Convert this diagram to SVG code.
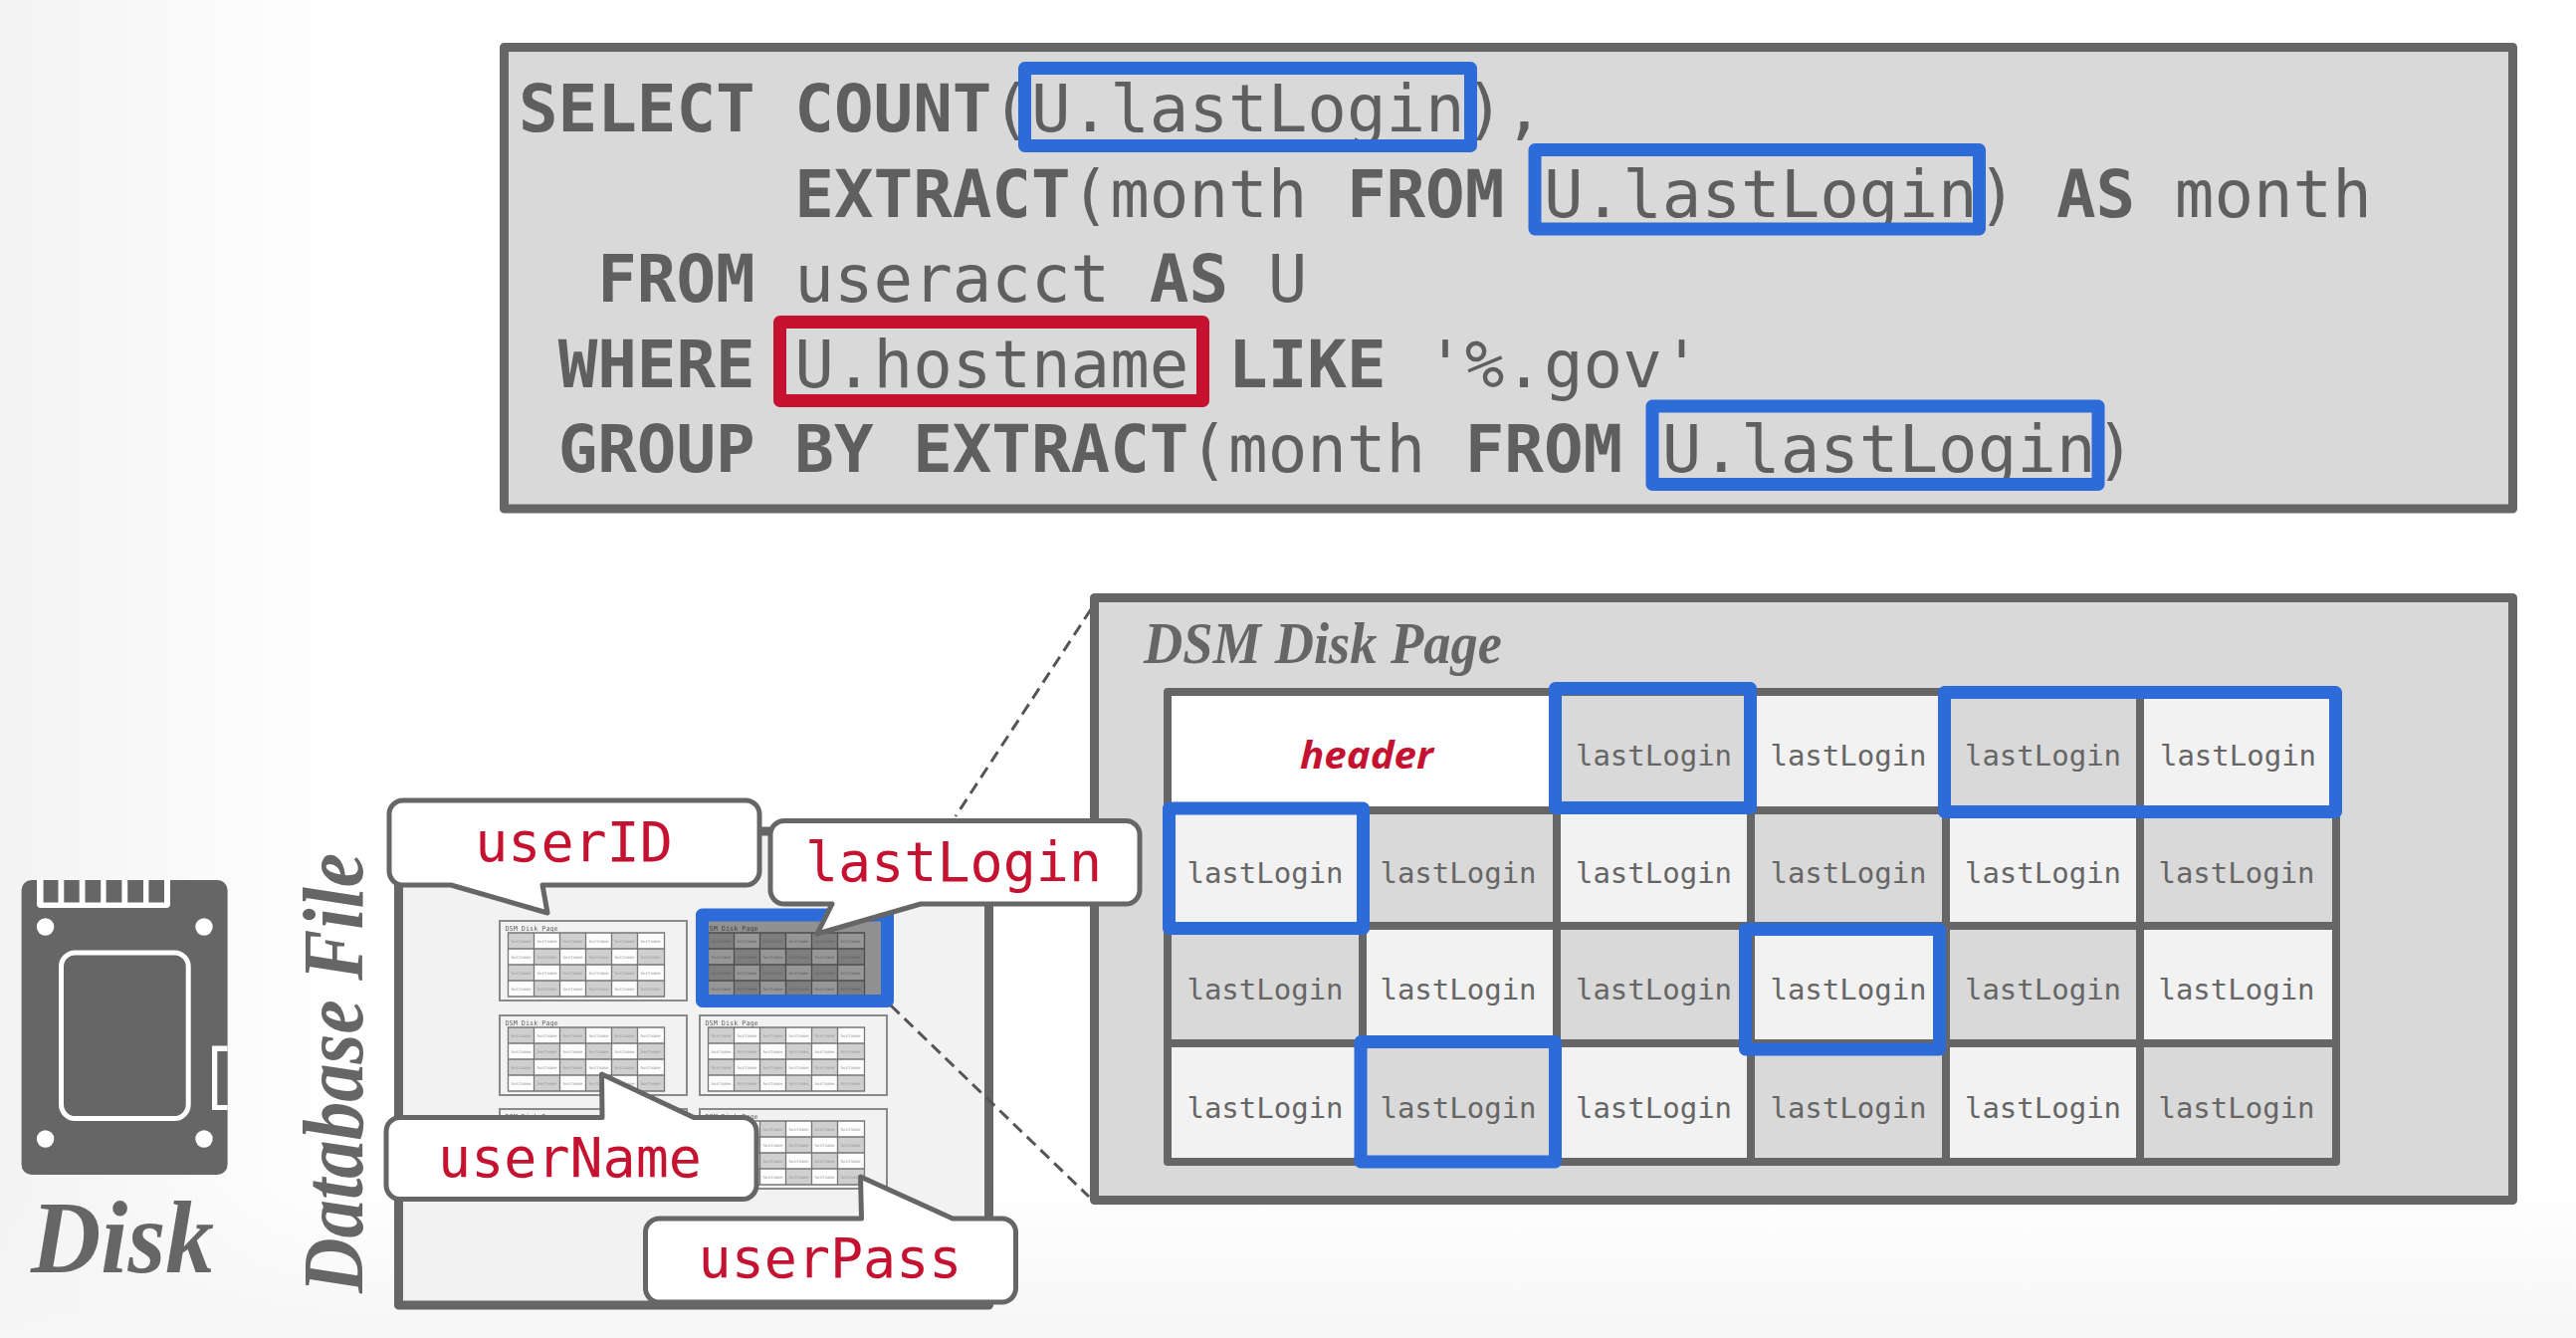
<svg xmlns="http://www.w3.org/2000/svg" width="2588" height="1344" viewBox="0 0 2588 1344">
<style>
.sql{font-family:"DejaVu Sans Mono",monospace;font-size:65.8px;fill:#5f5f5f;white-space:pre}
.sql .b{font-weight:700}
.frame{fill:#d9d9d9;stroke:#666;stroke-width:9;stroke-linejoin:round}
.blue{fill:none;stroke:#2d6bd9;stroke-width:13;stroke-linejoin:round}
.red{fill:none;stroke:#c41230;stroke-width:13;stroke-linejoin:round}
.d{fill:#d9d9d9}.l{fill:#f2f2f2}
.cell{font-family:"DejaVu Sans Mono",monospace;font-size:29px;fill:#666;text-anchor:middle}
.ttl{font-family:"Liberation Serif",serif;font-weight:700;font-style:italic;fill:#666}
.bub{fill:#fff;stroke:#666;stroke-width:5;stroke-linejoin:round}
.bt{font-family:"DejaVu Sans Mono",monospace;font-size:55px;fill:#c41230;text-anchor:middle}
.gl{fill:none;stroke:#666;stroke-width:8;stroke-linejoin:round}
.dash{fill:none;stroke:#555;stroke-width:3;stroke-dasharray:12 7}
.tp{fill:#f2f2f2;stroke:#8a8a8a;stroke-width:2}
.tt{font-family:"DejaVu Sans Mono",monospace;font-size:6.8px;fill:#666}
.tc{font-family:"DejaVu Sans Mono",monospace;font-size:4.2px;fill:#999;text-anchor:middle}
.td{fill:#cfcfcf}.tl{fill:#fdfdfd}
.tg{fill:none;stroke:#777;stroke-width:1.3}
</style>
<defs>
<linearGradient id="bgL" x1="0" x2="1" y1="0" y2="0"><stop offset="0" stop-color="#f3f3f3"/><stop offset="1" stop-color="#f3f3f3" stop-opacity="0"/></linearGradient>
<linearGradient id="bgB" x1="0" x2="0" y1="0" y2="1"><stop offset="0" stop-color="#f6f6f6" stop-opacity="0"/><stop offset="1" stop-color="#f6f6f6"/></linearGradient>
<filter id="soft" x="-5%" y="-5%" width="110%" height="110%"><feGaussianBlur stdDeviation="0.35"/></filter>
<g id="thumb" filter="url(#soft)">
<rect class="tp" x="1" y="1" width="188" height="80"/>
<text class="tt" x="6.5" y="11">DSM Disk Page</text>
<g transform="translate(9.5 13)">
<path class="td" d="M0 0h26v16H0zM52 0h26v16H52zM104 0h26v16h-26zM26 16h26v16H26zM78 16h26v16H78zM130 16h27v16h-27zM0 32h26v16H0zM52 32h26v16H52zM104 32h26v16h-26zM26 48h26v16H26zM78 48h26v16H78zM130 48h27v16h-27z"/>
<path class="tl" d="M26 0h26v16H26zM78 0h26v16H78zM130 0h27v16h-27zM0 16h26v16H0zM52 16h26v16H52zM104 16h26v16h-26zM26 32h26v16H26zM78 32h26v16H78zM130 32h27v16h-27zM0 48h26v16H0zM52 48h26v16H52zM104 48h26v16h-26z"/>
<path class="tg" d="M0 0H157V64H0ZM26 0V64M52 0V64M78 0V64M104 0V64M130 0V64M0 16H157M0 32H157M0 48H157"/>
<g class="tc">
<text x="13" y="9.5">hostname</text><text x="39" y="9.5">hostname</text><text x="65" y="9.5">hostname</text><text x="91" y="9.5">hostname</text><text x="117" y="9.5">hostname</text><text x="143" y="9.5">hostname</text>
<text x="13" y="25.5">hostname</text><text x="39" y="25.5">hostname</text><text x="65" y="25.5">hostname</text><text x="91" y="25.5">hostname</text><text x="117" y="25.5">hostname</text><text x="143" y="25.5">hostname</text>
<text x="13" y="41.5">hostname</text><text x="39" y="41.5">hostname</text><text x="65" y="41.5">hostname</text><text x="91" y="41.5">hostname</text><text x="117" y="41.5">hostname</text><text x="143" y="41.5">hostname</text>
<text x="13" y="57.5">hostname</text><text x="39" y="57.5">hostname</text><text x="65" y="57.5">hostname</text><text x="91" y="57.5">hostname</text><text x="117" y="57.5">hostname</text><text x="143" y="57.5">hostname</text>
</g>
</g>
</g>
</defs>
<rect width="2588" height="1344" fill="#fff"/>
<rect width="340" height="1344" fill="url(#bgL)"/>
<rect y="1190" width="2588" height="154" fill="url(#bgB)"/>

<g id="sql-query">
<rect class="frame" x="506.5" y="47.5" width="2018" height="463.5"/>
<text class="sql" x="521" y="132"><tspan class="b">SELECT COUNT</tspan>(U.lastLogin),</text>
<text class="sql" x="521" y="218">       <tspan class="b">EXTRACT</tspan>(month <tspan class="b">FROM</tspan> U.lastLogin) <tspan class="b">AS</tspan> month</text>
<text class="sql" x="521" y="303">  <tspan class="b">FROM</tspan> useracct <tspan class="b">AS</tspan> U</text>
<text class="sql" x="521" y="389"> <tspan class="b">WHERE</tspan> U.hostname <tspan class="b">LIKE</tspan> '%.gov'</text>
<text class="sql" x="521" y="474"> <tspan class="b">GROUP BY EXTRACT</tspan>(month <tspan class="b">FROM</tspan> U.lastLogin)</text>
<rect class="blue" x="1029.5" y="68.5" width="448" height="78"/>
<rect class="blue" x="1542" y="150.5" width="446.5" height="79.5"/>
<rect class="blue" x="1660" y="408" width="448" height="78.500"/>
<rect class="red" x="783.5" y="323.5" width="425" height="79"/>
</g>

<g id="disk">
<rect x="21.6" y="884" width="207" height="296" rx="10" fill="#666"/>
<path d="M37 884H171V908q0 4-4 4H41q-4 0-4-4Z" fill="#fff"/>
<path d="M43.600 884h14.900v22.600H43.600zM64.300 884h15.400v22.600H64.300zM85.500 884h15.700v22.600H85.500zM106.600 884h15.800v22.600H106.600zM128.200 884h15.800v22.600H128.200zM149.400 884h15.600v22.600H149.400z" fill="#666"/>
<g fill="#fff"><circle cx="45.600" cy="931" r="8.700"/><circle cx="205" cy="931" r="8.700"/><circle cx="45.600" cy="1144" r="8.700"/><circle cx="205" cy="1144" r="8.700"/></g>
<rect x="61.500" y="957" width="127.700" height="166.500" rx="14" fill="none" stroke="#fff" stroke-width="5"/>
<path d="M228.600 1050.500H213V1115H228.600Z" fill="#fff"/>
<rect x="218.300" y="1056" width="10.300" height="54" fill="#666"/>
<text class="ttl" x="31" y="1278" font-size="103" textLength="184" lengthAdjust="spacingAndGlyphs">Disk</text>
</g>

<g id="database-file">
<rect x="400.500" y="835" width="593" height="476" fill="#f2f2f2" stroke="#666" stroke-width="9" stroke-linejoin="round"/>
<text class="ttl" transform="translate(364 1299) rotate(-90)" font-size="86" textLength="442" lengthAdjust="spacingAndGlyphs">Database File</text>
<use href="#thumb" x="501" y="924"/>
<use href="#thumb" x="702" y="924"/>
<rect x="712" y="926" width="173" height="73" fill="#1a1a1a" opacity="0.45"/>
<rect x="705.500" y="919" width="186" height="86.500" fill="none" stroke="#2d6bd9" stroke-width="13" stroke-linejoin="round"/>
<use href="#thumb" x="501" y="1019"/>
<use href="#thumb" x="702" y="1019"/>
<use href="#thumb" x="501" y="1113"/>
<use href="#thumb" x="702" y="1113"/>
</g>

<g id="connectors">
<path class="dash" d="M1096 612L960 820"/>
<path class="dash" d="M895 1010L1094 1202"/>
</g>

<g id="dsm-disk-page">
<rect class="frame" x="1099.500" y="600.500" width="1425" height="605"/>
<text class="ttl" x="1149" y="665.500" font-size="60" textLength="360" lengthAdjust="spacingAndGlyphs">DSM Disk Page</text>
<rect x="1173" y="695" width="391" height="119" fill="#fff"/>
<rect class="d" x="1564" y="695" width="195" height="119"/><rect class="l" x="1759" y="695" width="196" height="119"/><rect class="d" x="1955" y="695" width="195" height="119"/><rect class="l" x="2150" y="695" width="197" height="119"/>
<rect class="l" x="1173" y="814" width="196" height="116"/><rect class="d" x="1369" y="814" width="195" height="116"/><rect class="l" x="1564" y="814" width="195" height="116"/><rect class="d" x="1759" y="814" width="196" height="116"/><rect class="l" x="1955" y="814" width="195" height="116"/><rect class="d" x="2150" y="814" width="197" height="116"/>
<rect class="d" x="1173" y="930" width="196" height="118"/><rect class="l" x="1369" y="930" width="195" height="118"/><rect class="d" x="1564" y="930" width="195" height="118"/><rect class="l" x="1759" y="930" width="196" height="118"/><rect class="d" x="1955" y="930" width="195" height="118"/><rect class="l" x="2150" y="930" width="197" height="118"/>
<rect class="l" x="1173" y="1048" width="196" height="119"/><rect class="d" x="1369" y="1048" width="195" height="119"/><rect class="l" x="1564" y="1048" width="195" height="119"/><rect class="d" x="1759" y="1048" width="196" height="119"/><rect class="l" x="1955" y="1048" width="195" height="119"/><rect class="d" x="2150" y="1048" width="197" height="119"/>
<path class="gl" d="M1173 695H2347V1167H1173ZM1173 814H2347M1173 930H2347M1173 1048H2347M1369 814V1167M1564 695V1167M1759 695V1167M1955 695V1167M2150 695V1167"/>
<text x="1373" y="771.500" font-family="'Open Sans','Noto Sans',sans-serif" font-weight="700" font-style="italic" font-size="38" fill="#c41230" text-anchor="middle" textLength="134" lengthAdjust="spacingAndGlyphs">header</text>
<g class="cell">
<text x="1661.500" y="769">lastLogin</text><text x="1857" y="769">lastLogin</text><text x="2052.500" y="769">lastLogin</text><text x="2248.500" y="769">lastLogin</text>
<text x="1271" y="887">lastLogin</text><text x="1465" y="887">lastLogin</text><text x="1661.500" y="887">lastLogin</text><text x="1857" y="887">lastLogin</text><text x="2052.500" y="887">lastLogin</text><text x="2247" y="887">lastLogin</text>
<text x="1271" y="1003.500">lastLogin</text><text x="1465" y="1003.500">lastLogin</text><text x="1661.500" y="1003.500">lastLogin</text><text x="1857" y="1003.500">lastLogin</text><text x="2052.500" y="1003.500">lastLogin</text><text x="2247" y="1003.500">lastLogin</text>
<text x="1271" y="1122.500">lastLogin</text><text x="1465" y="1122.500">lastLogin</text><text x="1661.500" y="1122.500">lastLogin</text><text x="1857" y="1122.500">lastLogin</text><text x="2052.500" y="1122.500">lastLogin</text><text x="2247" y="1122.500">lastLogin</text>
</g>
<rect class="blue" x="1562.500" y="691.500" width="196" height="120"/>
<rect class="blue" x="1174.500" y="812" width="195" height="120.500"/>
<rect class="blue" x="1953.500" y="695.500" width="393" height="120"/>
<rect class="blue" x="1753.500" y="933.500" width="195" height="120.500"/>
<rect class="blue" x="1367" y="1046.500" width="195.500" height="120.500"/>
</g>

<g id="callout-userID">
<path class="bub" d="M405 804H749a14 14 0 0 1 14 14V875a14 14 0 0 1-14 14H545L550 917L453 889H405a14 14 0 0 1-14-14V818a14 14 0 0 1 14-14Z"/>
<text class="bt" x="576.500" y="864.500">userID</text>
</g>
<g id="callout-lastLogin">
<path class="bub" d="M788 824.500H1131a14 14 0 0 1 14 14V894a14 14 0 0 1-14 14H925L821 938L836 908H788a14 14 0 0 1-14-14V838.500a14 14 0 0 1 14-14Z"/>
<text class="bt" x="958" y="884.500">lastLogin</text>
</g>
<g id="callout-userName">
<path class="bub" d="M402 1122.500H605L604.500 1079L697 1122.500H746a14 14 0 0 1 14 14V1190.500a14 14 0 0 1-14 14H402a14 14 0 0 1-14-14V1136.500a14 14 0 0 1 14-14Z"/>
<text class="bt" x="572.500" y="1182">userName</text>
</g>
<g id="callout-userPass">
<path class="bub" d="M662.500 1224H865.500L864.500 1182L957 1224H1006.500a14 14 0 0 1 14 14V1294a14 14 0 0 1-14 14H662.500a14 14 0 0 1-14-14V1238a14 14 0 0 1 14-14Z"/>
<text class="bt" x="834" y="1283">userPass</text>
</g>
</svg>
